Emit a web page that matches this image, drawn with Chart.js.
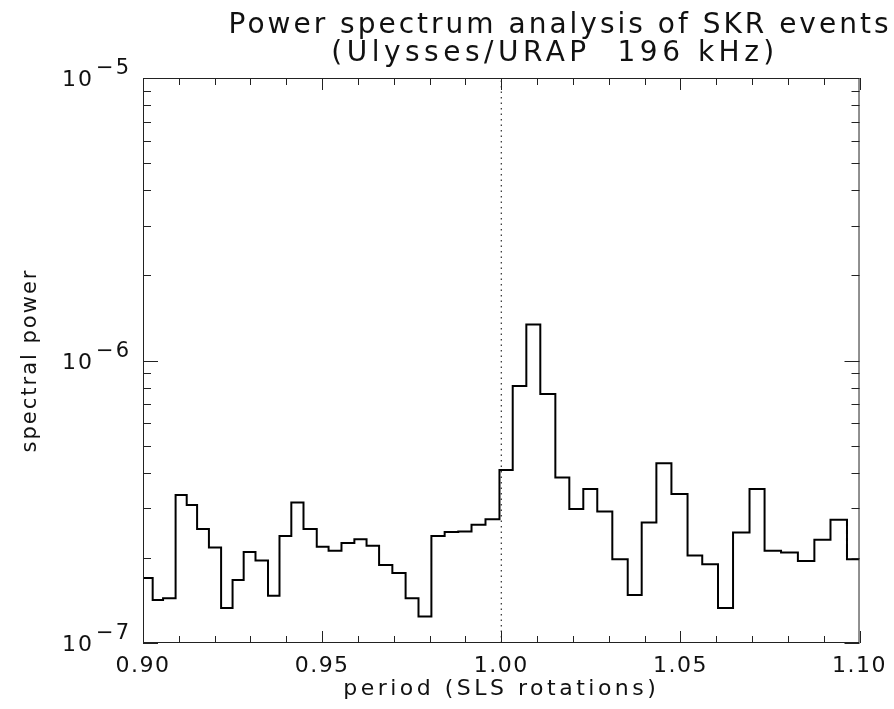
<!DOCTYPE html>
<html>
<head>
<meta charset="utf-8">
<title>Power spectrum analysis of SKR events</title>
<script src="https://cdn.jsdelivr.net/npm/chart.js@4.4.0/dist/chart.umd.min.js"></script>
<style>
  html, body { margin: 0; padding: 0; background: #fff; }
  #chart { display: block; }
</style>
</head>
<body>
<canvas id="chart" width="894" height="709"></canvas>
<script>
// Texts
const titleLines = ["Power spectrum analysis of SKR events", "(Ulysses/URAP  196 kHz)"]
const xAxisTitle = "period (SLS rotations)"
const yAxisTitle = "spectral power"

// Bin edges (period, SLS rotations)
const binEdges = [
  0.9000, 0.9027, 0.9056, 0.9091, 0.9122, 0.9151, 0.9184, 0.9218, 0.9250, 0.9281,
  0.9314, 0.9349, 0.9381, 0.9414, 0.9448, 0.9485, 0.9518, 0.9554, 0.9590, 0.9624,
  0.9659, 0.9696, 0.9733, 0.9769, 0.9805, 0.9842, 0.9880, 0.9917, 0.9956, 0.9995,
  1.0032, 1.0070, 1.0109, 1.0151, 1.0190, 1.0229, 1.0268, 1.0310, 1.0353, 1.0392,
  1.0433, 1.0475, 1.0520, 1.0561, 1.0605, 1.0647, 1.0693, 1.0735, 1.0781, 1.0828,
  1.0874, 1.0919, 1.0965, 1.1000
]

// Spectral power of each bin (one value per bin)
const spectralPower = [
  1.70e-7, 1.42e-7, 1.44e-7, 3.34e-7, 3.08e-7, 2.53e-7, 2.18e-7, 1.33e-7, 1.67e-7, 2.10e-7,
  1.96e-7, 1.47e-7, 2.39e-7, 3.14e-7, 2.53e-7, 2.19e-7, 2.12e-7, 2.26e-7, 2.33e-7, 2.21e-7,
  1.89e-7, 1.77e-7, 1.44e-7, 1.24e-7, 2.39e-7, 2.47e-7, 2.48e-7, 2.62e-7, 2.74e-7, 4.10e-7,
  8.12e-7, 1.34e-6, 7.61e-7, 3.85e-7, 2.98e-7, 3.51e-7, 2.92e-7, 1.98e-7, 1.48e-7, 2.67e-7,
  4.33e-7, 3.37e-7, 2.04e-7, 1.90e-7, 1.33e-7, 2.46e-7, 3.51e-7, 2.12e-7, 2.09e-7, 1.95e-7,
  2.32e-7, 2.73e-7, 1.98e-7
]

// Dotted marker at one SLS rotation
const markerPeriod = [1.0, 1.0]
const markerPower = [1e-7, 1e-5]

// Axes
const xMin = 0.90
const xMax = 1.10
const yMin = 1e-7
const yMax = 1e-5
const xTicks = [0.90, 0.91, 0.92, 0.93, 0.94, 0.95, 0.96, 0.97, 0.98, 0.99, 1.00,
  1.01, 1.02, 1.03, 1.04, 1.05, 1.06, 1.07, 1.08, 1.09, 1.10]
const xLabelTicks = [0.90, 0.95, 1.00, 1.05, 1.10]
const yTicks = [1e-7, 2e-7, 3e-7, 4e-7, 5e-7, 6e-7, 7e-7, 8e-7, 9e-7,
  1e-6, 2e-6, 3e-6, 4e-6, 5e-6, 6e-6, 7e-6, 8e-6, 9e-6, 1e-5]
const yLabelTicks = [1e-7, 1e-6, 1e-5]

const FONT = '"DejaVu Sans", sans-serif'
const INK = "#111"

function isIn(list, v) {
  return list.some((t) => Math.abs(t - v) < 1e-9)
}

// Frame, inward ticks, decade labels, axis titles and title
const framePlugin = {
  id: "frame",
  beforeDraw(chart) {
    // wide lettering for the x tick labels, like the original plot font
    chart.ctx.letterSpacing = "1.5px"
  },
  afterDraw(chart) {
    const ctx = chart.ctx
    const { left, right, top, bottom } = chart.chartArea
    const xs = chart.scales.x
    const ys = chart.scales.y
    ctx.save()
    ctx.strokeStyle = "#222"
    ctx.lineWidth = 1
    ctx.strokeRect(left + 0.5, top + 0.5, right - left - 1, bottom - top - 1)

    ctx.beginPath()
    xTicks.forEach((v) => {
      const px = Math.round(xs.getPixelForValue(v)) + 0.5
      const len = isIn(xLabelTicks, v) ? 12 : 7
      ctx.moveTo(px, bottom)
      ctx.lineTo(px, bottom - len)
      ctx.moveTo(px, top)
      ctx.lineTo(px, top + len)
    })
    yTicks.forEach((v) => {
      const py = Math.round(ys.getPixelForValue(v)) + 0.5
      const len = isIn(yLabelTicks, v) ? 15 : 8
      ctx.moveTo(left, py)
      ctx.lineTo(left + len, py)
      ctx.moveTo(right, py)
      ctx.lineTo(right - len, py)
    })
    ctx.stroke()

    // y decade labels: 10 with a raised exponent
    ctx.fillStyle = INK
    ctx.textAlign = "right"
    ctx.textBaseline = "alphabetic"
    ctx.letterSpacing = "2px"
    yLabelTicks.forEach((v) => {
      const py = ys.getPixelForValue(v)
      const exp = Math.round(Math.log10(v))
      const sup = "\u2212" + Math.abs(exp)
      ctx.font = "21px " + FONT
      const supW = ctx.measureText(sup).width
      ctx.fillText(sup, left - 12, py - 4)
      ctx.font = "22px " + FONT
      ctx.fillText("10", left - 12 - supW - 2, py + 8)
    })

    // axis titles
    ctx.textAlign = "center"
    ctx.textBaseline = "middle"
    ctx.font = "22px " + FONT
    ctx.letterSpacing = "3.5px"
    ctx.fillText(xAxisTitle, (left + right) / 2, 689)
    ctx.save()
    ctx.translate(31, (top + bottom) / 2)
    ctx.rotate(-Math.PI / 2)
    ctx.font = "21px " + FONT
    ctx.letterSpacing = "2px"
    ctx.fillText(yAxisTitle, 0, 0)
    ctx.restore()

    // title
    ctx.textBaseline = "alphabetic"
    ctx.font = "28px " + FONT
    ctx.letterSpacing = "3px"
    ctx.fillText(titleLines[0], 560, 33)
    ctx.letterSpacing = "4.5px"
    ctx.fillText(titleLines[1], 555, 61)
    ctx.restore()
    ctx.letterSpacing = "0px"
  },
}

const stepData = binEdges.map((x, i) => ({
  x: x,
  y: spectralPower[Math.min(i, spectralPower.length - 1)],
}))

new Chart(document.getElementById("chart"), {
  type: "line",
  data: {
    datasets: [
      {
        data: stepData,
        stepped: "before",
        borderColor: "#000",
        borderWidth: 2,
        pointRadius: 0,
        fill: false,
      },
      {
        data: markerPeriod.map((x, i) => ({ x: x, y: markerPower[i] })),
        borderColor: "#000",
        borderWidth: 1,
        borderDash: [1.5, 4],
        pointRadius: 0,
        fill: false,
      },
    ],
  },
  options: {
    responsive: false,
    animation: false,
    events: [],
    layout: { padding: { top: 78, right: 32, bottom: 0, left: 0 } },
    plugins: {
      legend: { display: false },
      title: { display: false },
      tooltip: { enabled: false },
    },
    scales: {
      x: {
        type: "linear",
        min: xMin,
        max: xMax,
        afterBuildTicks: (s) => {
          s.ticks = xTicks.map((v) => ({ value: v }))
        },
        afterFit: (s) => {
          s.height = 66
        },
        grid: { display: false, drawTicks: false },
        border: { display: false },
        ticks: {
          autoSkip: false,
          maxRotation: 0,
          padding: 10,
          color: INK,
          font: { family: FONT, size: 22 },
          callback: (v) => (isIn(xLabelTicks, v) ? v.toFixed(2) : ""),
        },
        title: { display: false },
      },
      y: {
        type: "logarithmic",
        min: yMin,
        max: yMax,
        afterBuildTicks: (s) => {
          s.ticks = yTicks.map((v) => ({ value: v }))
        },
        afterFit: (s) => {
          s.width = 143
        },
        grid: { display: false, drawTicks: false },
        border: { display: false },
        ticks: { display: false },
        title: { display: false },
      },
    },
  },
  plugins: [framePlugin],
})
</script>
</body>
</html>
